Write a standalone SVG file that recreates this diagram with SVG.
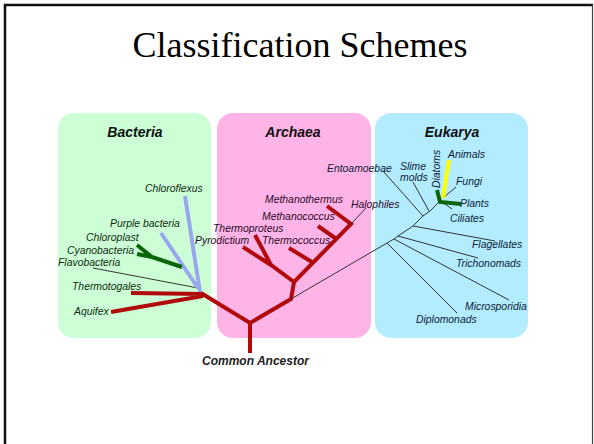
<svg xmlns="http://www.w3.org/2000/svg" width="594" height="444" viewBox="0 0 594 444">
<style>
.lbl{font-family:"Liberation Sans",Arial,sans-serif;font-style:italic;font-size:10.4px}
.b{fill:#112a11}.a{fill:#2a0a2a}.e{fill:#0a2236}
.ttl{font-family:"Liberation Sans",Arial,sans-serif;font-style:italic;font-weight:bold;font-size:14px;fill:#111;text-anchor:middle}
.red{stroke:#b00a0a;stroke-width:4;fill:none;stroke-linecap:butt}
.blue{stroke:#99a8ee;stroke-width:4;fill:none}
.green{stroke:#0a640a;stroke-width:4;fill:none}
.thin{stroke:#333;stroke-width:1;fill:none}
</style>
<rect width="594" height="444" fill="#fff"/>
<g id="frame" fill="none">
<line x1="4" y1="5" x2="593" y2="5" stroke="#111" stroke-width="2.5"/>
<line x1="5" y1="4" x2="5" y2="444" stroke="#111" stroke-width="2.5"/>
<line x1="592.5" y1="5" x2="592.5" y2="444" stroke="#444" stroke-width="1.2"/>
</g>
<text x="300" y="57" font-family="'Liberation Serif','Times New Roman',serif" font-size="36" text-anchor="middle" fill="#000">Classification Schemes</text>
<g id="panel-bacteria">
<rect x="58" y="113" width="153" height="225" rx="16" fill="#ccffd6"/>
<text class="ttl" x="135" y="137">Bacteria</text>
</g>
<g id="panel-archaea">
<rect x="217" y="113" width="154" height="225" rx="16" fill="#ffb4e8"/>
<text class="ttl" x="293" y="137">Archaea</text>
</g>
<g id="panel-eukarya">
<rect x="375" y="113" width="153" height="225" rx="16" fill="#b4ecff"/>
<text class="ttl" x="452" y="137">Eukarya</text>
</g>
<g id="connectors">
<path class="thin" d="M93,268 L198,288"/>
<path class="blue" d="M185,196 L200,292 M161,233 L198,288"/>
<path class="green" d="M137,245 L152,257 M137,254 L152,257 L182,267"/>
<path class="red" d="M131,293 L203,294 M111,312 L203,296 M201,293 L250,323 L291,299 L294,282 L271,265 L243,247 M271,265 L255,235 M294,282 L351,224 L327,206 M335,238 L318,226 M312,262 L289,248 M250,322 L250,353"/>
<path class="thin" d="M351,224 L366,208 M291,299 L387,243 L394,239 L398,236 L413,226 L423,216 L430,211 L439,202 M383,171 L423,216 M413,182 L429,211 M413,226 L495,241 M398,236 L478,258 M394,239 L509,300 M387,243 L457,313 M443,198 L456,187 M442,202 L452,209"/>
<path class="green" d="M437,190 L440,202 L461,204"/>
<path stroke="#ffff00" stroke-width="4" fill="none" d="M449,160 L443,198"/>
</g>
<g id="labels-bacteria" class="lbl b">
<text x="145" y="192">Chloroflexus</text>
<text x="110" y="227">Purple bacteria</text>
<text x="86" y="241">Chloroplast</text>
<text x="67" y="254">Cyanobacteria</text>
<text x="58" y="266">Flavobacteria</text>
<text x="72" y="290">Thermotogales</text>
<text x="74" y="315">Aquifex</text>
</g>
<g id="labels-archaea" class="lbl a">
<text x="265" y="203">Methanothermus</text>
<text x="262" y="220">Methanococcus</text>
<text x="213" y="232">Thermoproteus</text>
<text x="195" y="244">Pyrodictium</text>
<text x="262" y="244">Thermococcus</text>
<text x="351" y="208">Halophiles</text>
</g>
<g id="labels-eukarya" class="lbl e">
<text x="327" y="172">Entoamoebae</text>
<text x="400" y="170">Slime</text>
<text x="400" y="181">molds</text>
<text transform="translate(440,188) rotate(-90)">Diatoms</text>
<text x="448" y="158">Animals</text>
<text x="456" y="185">Fungi</text>
<text x="460" y="207">Plants</text>
<text x="450" y="222">Ciliates</text>
<text x="472" y="248">Flagellates</text>
<text x="456" y="267">Trichonomads</text>
<text x="465" y="310">Microsporidia</text>
<text x="416" y="323">Diplomonads</text>
</g>
<g id="root-label">
<text x="202" y="365" font-family="'Liberation Sans',Arial,sans-serif" font-style="italic" font-weight="bold" font-size="12" fill="#222">Common Ancestor</text>
</g>
</svg>
